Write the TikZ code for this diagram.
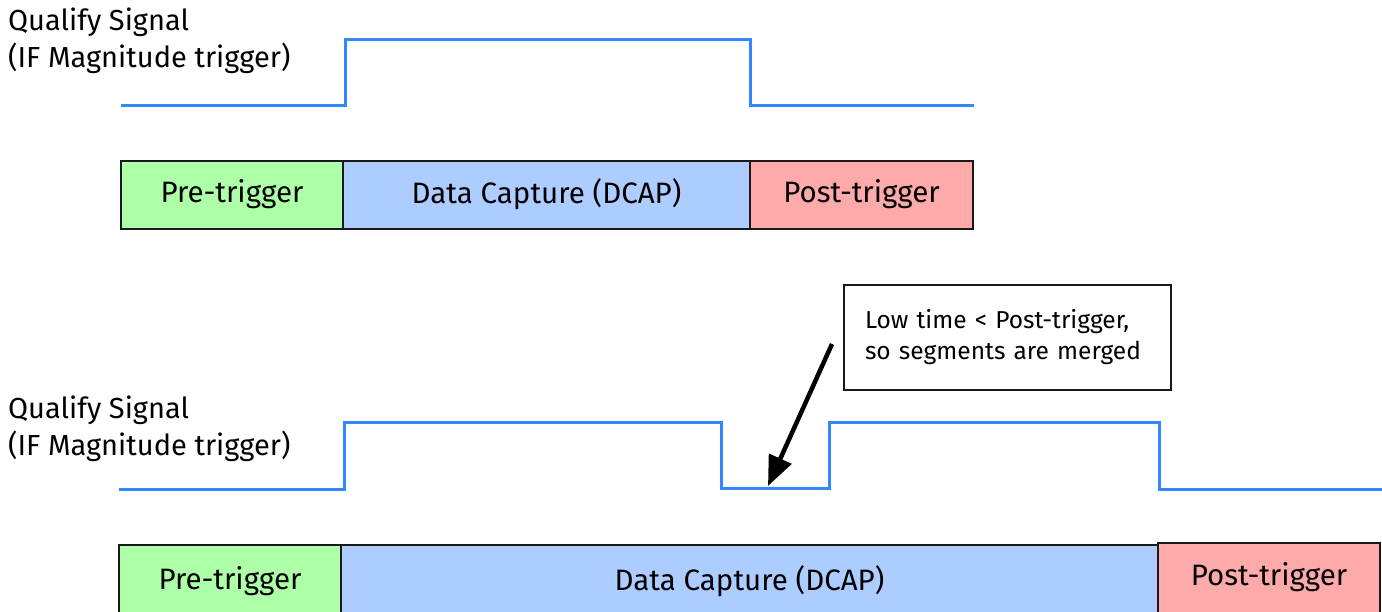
\documentclass[tikz,border=0pt]{standalone}
\usepackage{fontspec}
\setmainfont{Fira Sans}
\usetikzlibrary{arrows.meta}
\definecolor{pregreen}{RGB}{173,255,168}
\definecolor{capblue}{RGB}{173,204,255}
\definecolor{postpink}{RGB}{255,170,170}
\definecolor{sigblue}{RGB}{51,136,255}
\tikzset{
  seg/.style={draw=black!90, line width=2pt},
  segtext/.style={inner sep=0pt, font=\fontsize{29.5}{34}\selectfont},
  signal/.style={draw=sigblue, line width=3pt, line join=miter},
  label/.style={anchor=base west, inner sep=0pt, align=left,
    font=\fontsize{29}{37}\selectfont},
  callout/.style={draw=black!90, line width=2pt, fill=white, inner xsep=21pt,
    inner ysep=0pt, text width=285pt, align=left,
    font=\fontsize{24.5}{31}\selectfont},
  pointer/.style={line width=4.5pt, -{Triangle[length=30pt,width=24pt]}}
}
\begin{document}
\begin{tikzpicture}[x=1pt,y=-1pt]
\useasboundingbox (0,0) rectangle (1382,612);

% ---------- upper timing ----------
\node[label] (qa) at (8,68) {Qualify Signal\\(IF Magnitude trigger)};
\draw[signal] (121,106) -- (345,106) -- (345,40) -- (750,40) -- (750,106) -- (974,106);

\path[seg,fill=pregreen]  (121,161) rectangle (343,229);
\path[seg,fill=capblue]   (343,161) rectangle (750,229);
\path[seg,fill=postpink]  (750,161) rectangle (973,229);
\node[segtext] (pa) at (232,194) {Pre-trigger};
\node[segtext] (da) at (546.5,194) {Data Capture (DCAP)};
\node[segtext] (ta) at (861.5,194) {Post-trigger};

% ---------- lower timing ----------
\node[label] (qb) at (8,455) {Qualify Signal\\(IF Magnitude trigger)};
\draw[signal] (119,489) -- (344,489) -- (344,422) -- (721,422) -- (721,488)
  -- (829,488) -- (829,422) -- (1159,422) -- (1159,489) -- (1382,489);

\path[seg,fill=pregreen]  (119,545) rectangle (341,620);
\path[seg,fill=capblue]   (341,545) rectangle (1158,620);
\path[seg,fill=postpink]  (1158,543) rectangle (1380,613);
\node[segtext] (pb) at (230,581) {Pre-trigger};
\node[segtext] (db) at (749.5,581) {Data Capture (DCAP)};
\node[segtext] (tb) at (1269,577) {Post-trigger};

% ---------- annotation ----------
\node[callout, minimum height=105pt] (note) at (1007.5,337.5)
  {Low time < Post-trigger,\\so segments are merged};
\coordinate (from) at (832,344);
\coordinate (dip) at (768,486);
\draw[pointer] (from) -- (dip);
\end{tikzpicture}
\end{document}
